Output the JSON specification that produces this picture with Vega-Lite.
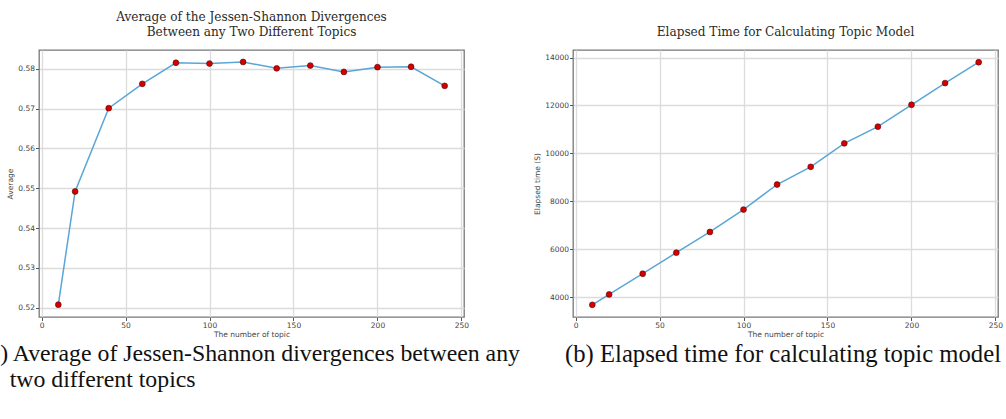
{
  "$schema": "https://vega.github.io/schema/vega-lite/v6.json",
  "padding": {"left": 0, "top": 10, "right": 0, "bottom": 0},
  "background": "white",
  "config": {
    "view": {"stroke": "#777", "strokeWidth": 1.3},
    "axis": {
      "labelFont": "DejaVu Sans", "labelFontSize": 7.5, "labelColor": "#444",
      "titleFont": "DejaVu Sans", "titleFontSize": 7.5, "titleColor": "#444", "titleFontWeight": "normal",
      "gridColor": "#dcdcdc", "gridWidth": 1.3, "domain": false,
      "tickColor": "#555", "tickSize": 3.5, "labelPadding": 1
    },
    "title": {"font": "DejaVu Serif", "fontSize": 12.1, "color": "#2a2a2a", "fontWeight": "normal"}
  },
  "spacing": 10,
  "hconcat": [
    {
      "title": {"text": [") Average of Jessen-Shannon divergences between any", "\u200b\u2009\u2009two different topics"], "orient": "bottom", "anchor": "start", "font": "Liberation Serif", "fontSize": 23.8, "lineHeight": 26, "color": "#111", "offset": 4, "dx": -6},
      "vconcat": [
        {
          "width": 425, "height": 267,
          "title": {"text": ["Average of the Jessen-Shannon Divergences", "Between any Two Different Topics"], "lineHeight": 15, "offset": 12},
          "data": {"values": [
            {"n": 10, "avg": 0.5208}, {"n": 20, "avg": 0.5492}, {"n": 40, "avg": 0.5701},
            {"n": 60, "avg": 0.5762}, {"n": 80, "avg": 0.5815}, {"n": 100, "avg": 0.5813},
            {"n": 120, "avg": 0.5817}, {"n": 140, "avg": 0.5801}, {"n": 160, "avg": 0.5808},
            {"n": 180, "avg": 0.5792}, {"n": 200, "avg": 0.5804}, {"n": 220, "avg": 0.5805},
            {"n": 240, "avg": 0.5757}
          ]},
          "encoding": {
            "x": {"field": "n", "type": "quantitative", "title": "The number of topic",
                  "scale": {"domain": [-1.5, 251.5], "nice": false, "zero": false},
                  "axis": {"values": [0, 50, 100, 150, 200, 250], "titlePadding": 1}},
            "y": {"field": "avg", "type": "quantitative", "title": "Average",
                  "scale": {"domain": [0.5177, 0.5847], "nice": false, "zero": false},
                  "axis": {"values": [0.52, 0.53, 0.54, 0.55, 0.56, 0.57, 0.58], "format": ".2f", "titlePadding": 3}}
          },
          "layer": [
            {"mark": {"type": "line", "color": "#5aa6d6", "strokeWidth": 1.5}},
            {"mark": {"type": "point", "filled": true, "fill": "#d40000", "stroke": "#500", "strokeWidth": 0.6, "size": 34, "opacity": 1}}
          ]
        }
      ]
    },
    {
      "title": {"text": "(b) Elapsed time for calculating topic model", "orient": "bottom", "anchor": "start", "font": "Liberation Serif", "fontSize": 24.7, "color": "#111", "offset": 4, "dx": 32},
      "vconcat": [
        {
          "width": 425, "height": 267,
          "title": {"text": "Elapsed Time for Calculating Topic Model", "offset": 12},
          "data": {"values": [
            {"n": 10, "t": 3679}, {"n": 20, "t": 4112}, {"n": 40, "t": 4976},
            {"n": 60, "t": 5855}, {"n": 80, "t": 6720}, {"n": 100, "t": 7654},
            {"n": 120, "t": 8700}, {"n": 140, "t": 9439}, {"n": 160, "t": 10418},
            {"n": 180, "t": 11116}, {"n": 200, "t": 12028}, {"n": 220, "t": 12934},
            {"n": 240, "t": 13805}
          ]},
          "encoding": {
            "x": {"field": "n", "type": "quantitative", "title": "The number of topic",
                  "scale": {"domain": [-1.5, 251.5], "nice": false, "zero": false},
                  "axis": {"values": [0, 50, 100, 150, 200, 250], "titlePadding": 1}},
            "y": {"field": "t", "type": "quantitative", "title": "Elapsed time (S)",
                  "scale": {"domain": [3170, 14315], "nice": false, "zero": false},
                  "axis": {"values": [4000, 6000, 8000, 10000, 12000, 14000], "format": "d", "titlePadding": 3}}
          },
          "layer": [
            {"mark": {"type": "line", "color": "#5aa6d6", "strokeWidth": 1.5}},
            {"mark": {"type": "point", "filled": true, "fill": "#d40000", "stroke": "#500", "strokeWidth": 0.6, "size": 34, "opacity": 1}}
          ]
        }
      ]
    }
  ]
}
